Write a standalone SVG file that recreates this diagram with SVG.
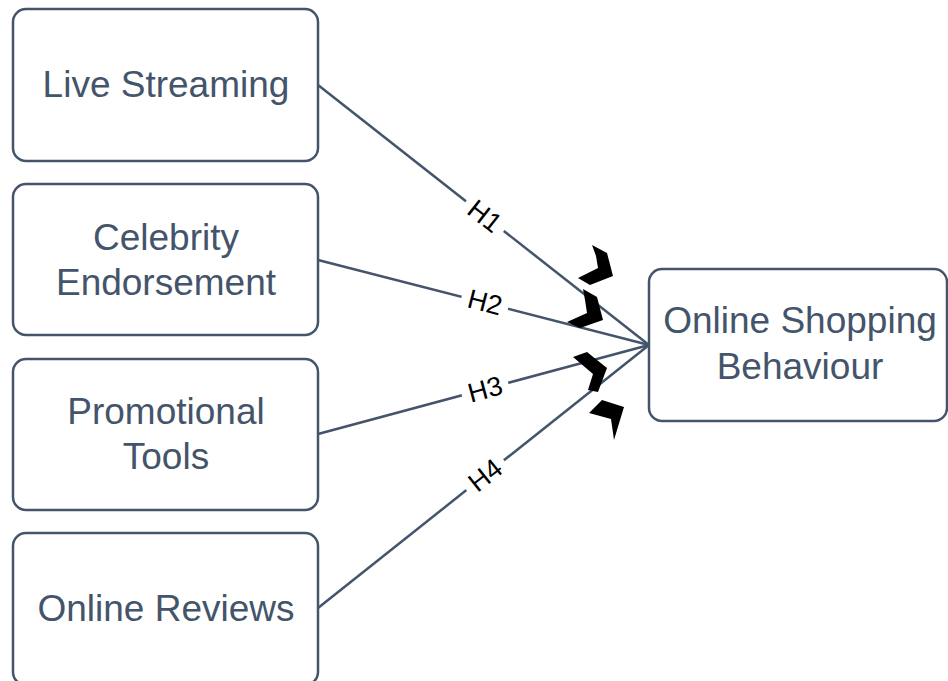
<svg xmlns="http://www.w3.org/2000/svg" width="948" height="681" viewBox="0 0 948 681">
<style>
.box{fill:#fff;stroke:#44546A;stroke-width:2.5}
.t{font-family:"Liberation Sans",Arial,sans-serif;font-size:37px;fill:#44546A;text-anchor:middle}
.c{stroke:#44546A;stroke-width:2.5;fill:none}
.lb{font-family:"Liberation Sans",Arial,sans-serif;font-size:27px;fill:#000;text-anchor:middle}
.bg{fill:#fff}
.ah{fill:#000}
</style>
<rect width="948" height="681" fill="#fff"/>
<g id="connectors">
<line class="c" x1="318" y1="85" x2="649" y2="345"/>
<line class="c" x1="318" y1="260" x2="649" y2="345"/>
<line class="c" x1="318" y1="434" x2="649" y2="345"/>
<line class="c" x1="318" y1="608" x2="649" y2="345"/>
<g transform="translate(485,216) rotate(38.2)"><rect class="bg" x="-24" y="-15" width="48" height="30"/><text class="lb" x="0" y="9.5">H1</text></g>
<g transform="translate(485,302) rotate(14.4)"><rect class="bg" x="-24" y="-15" width="48" height="30"/><text class="lb" x="0" y="9.5">H2</text></g>
<g transform="translate(485,389) rotate(-15)"><rect class="bg" x="-24" y="-15" width="48" height="30"/><text class="lb" x="0" y="9.5">H3</text></g>
<g transform="translate(485,475) rotate(-38.5)"><rect class="bg" x="-24" y="-15" width="48" height="30"/><text class="lb" x="0" y="9.5">H4</text></g>
<polygon class="ah" points="592,245 607,253 613,276 590,285 578,278 598,268 596,256"/>
<polygon class="ah" points="583,289 597,297 603,320 580,328 567,322 587,313 585,300"/>
<polygon class="ah" points="573,357 587,352 607,368 598,392 588,390 593,374"/>
<polygon class="ah" points="589,413 602,400 624,407 614,440 611,419"/>
</g>
<g id="live-streaming">
<rect class="box" x="13" y="9" width="305" height="152" rx="13"/>
<text class="t" x="166" y="97">Live Streaming</text>
</g>
<g id="celebrity-endorsement">
<rect class="box" x="13" y="184" width="305" height="151" rx="13"/>
<text class="t" x="166" y="250">Celebrity</text>
<text class="t" x="166" y="295">Endorsement</text>
</g>
<g id="promotional-tools">
<rect class="box" x="13" y="359" width="305" height="151" rx="13"/>
<text class="t" x="166" y="424">Promotional</text>
<text class="t" x="166" y="469">Tools</text>
</g>
<g id="online-reviews">
<rect class="box" x="13" y="533" width="305" height="152" rx="13"/>
<text class="t" x="166" y="621">Online Reviews</text>
</g>
<g id="online-shopping-behaviour">
<rect class="box" x="649" y="269" width="298" height="152" rx="13"/>
<text class="t" x="800" y="333">Online Shopping</text>
<text class="t" x="800" y="379">Behaviour</text>
</g>
</svg>
